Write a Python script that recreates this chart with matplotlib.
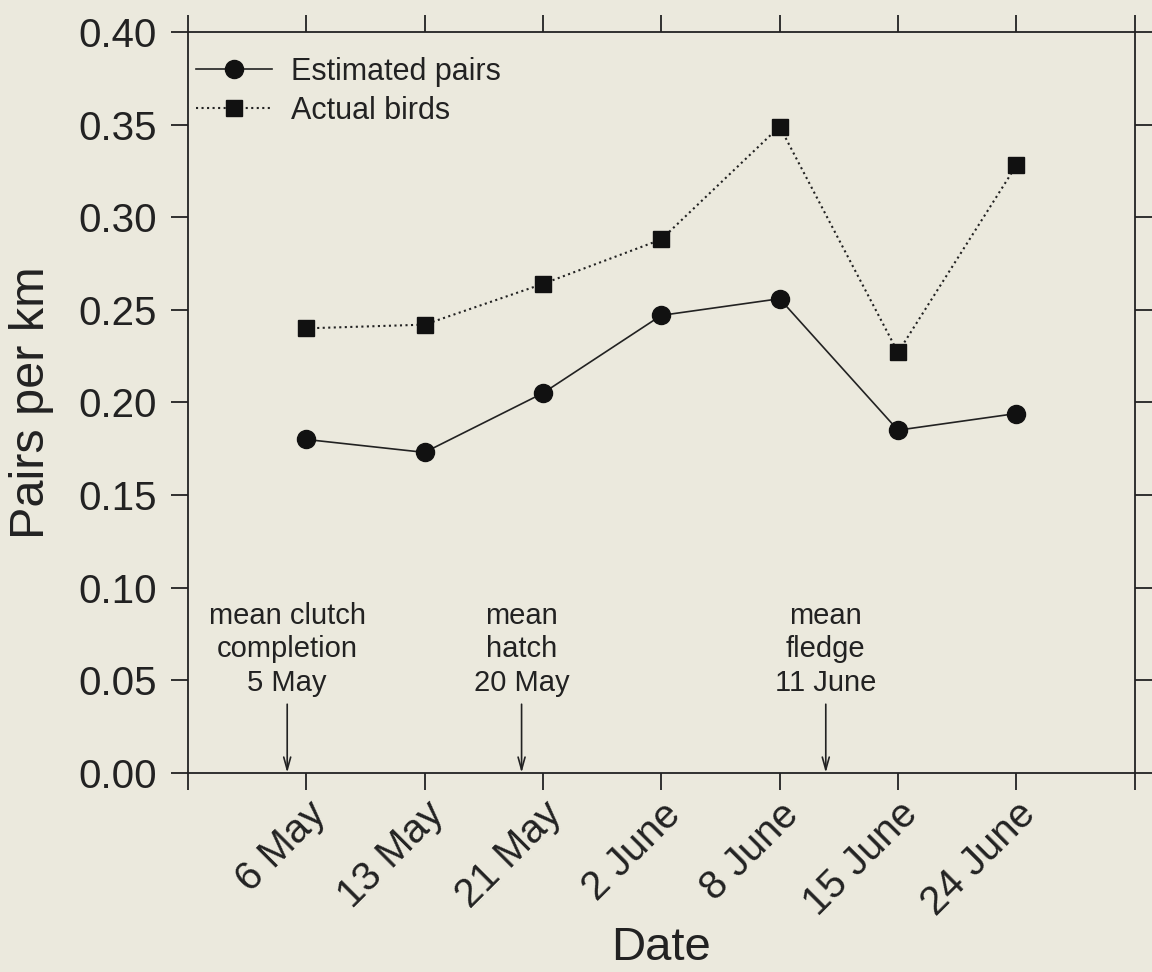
import matplotlib
matplotlib.use("Agg")
import matplotlib.pyplot as plt

plt.rcParams['font.family'] = ['Liberation Sans', 'DejaVu Sans']

# survey dates (categories) and densities
dates = ["6 May", "13 May", "21 May", "2 June", "8 June", "15 June", "24 June"]
estimated_pairs = [0.180, 0.173, 0.205, 0.247, 0.256, 0.185, 0.194]
actual_birds = [0.240, 0.242, 0.264, 0.288, 0.349, 0.227, 0.328]

# breeding events marked with arrows
event_labels = ["mean clutch\ncompletion\n5 May", "mean\nhatch\n20 May", "mean\nfledge\n11 June"]
event_x = [0.84, 2.82, 5.39]

bg = "#ebe9dd"
ink = "#222222"

fig = plt.figure(figsize=(11.52, 9.72), dpi=100, facecolor=bg)
ax = fig.add_axes([0.163, 0.205, 0.822, 0.762], facecolor=bg)

x = list(range(1, len(dates) + 1))
ax.plot(x, estimated_pairs, "-", color=ink, lw=1.2, marker="o", ms=13,
        mfc="#111111", mec="#111111", label="Estimated pairs")
ax.plot(x, actual_birds, ":", color=ink, lw=1.5, marker="s", ms=11.5,
        mfc="#111111", mec="#111111", label="Actual birds")

for lab, ex in zip(event_labels, event_x):
    ax.annotate("", xy=(ex, 0.0), xytext=(ex, 0.037),
                arrowprops=dict(arrowstyle="->,head_length=0.9,head_width=0.25",
                                color=ink, lw=1.2, shrinkA=0, shrinkB=0))
    ax.text(ex, 0.041, lab, ha="center", va="bottom", fontsize=21,
            color=ink, linespacing=1.25)

ax.set_xlim(0, 8)
ax.set_ylim(0, 0.40)
ax.set_xticks(x)
ax.set_xticklabels(dates, rotation=45, ha="right", rotation_mode="anchor")
ax.set_xticks([0, 8], minor=True)
ax.set_yticks([0, 0.05, 0.10, 0.15, 0.20, 0.25, 0.30, 0.35, 0.40])
ax.set_yticklabels(["0.00", "0.05", "0.10", "0.15", "0.20", "0.25",
                    "0.30", "0.35", "0.40"])

ax.tick_params(which="both", direction="out", length=12, width=1.3,
               color=ink, top=True, right=True, labelsize=29, labelcolor=ink)
ax.tick_params(axis="x", which="major", pad=4)
ax.tick_params(axis="y", which="major", pad=10)
for s in ax.spines.values():
    s.set_color(ink)
    s.set_linewidth(1.3)

ax.set_xlabel("Date", fontsize=34, color=ink, va="center")
ax.xaxis.set_label_coords(0.5, -0.237)
ax.set_ylabel("Pairs per km", fontsize=35, color=ink, labelpad=18)

ax.legend(loc="upper left", bbox_to_anchor=(0.0085, 0.967), frameon=False,
          fontsize=22, handlelength=2.5, handletextpad=0.6, borderaxespad=0,
          borderpad=0, labelspacing=0.3, labelcolor=ink)

fig.savefig("out.png", dpi=100, facecolor=bg)
